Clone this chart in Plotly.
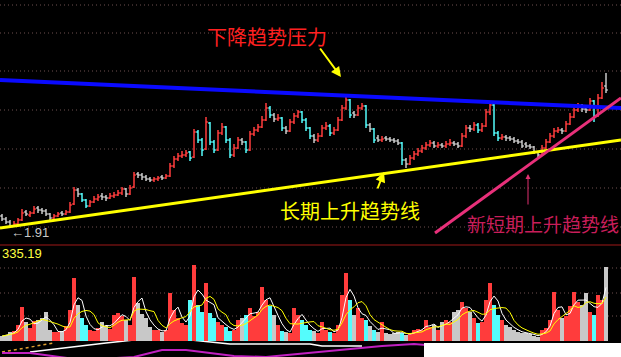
import plotly.graph_objects as go
import pandas as pd

# ---------------- data ----------------
closes = [
    1.99, 1.96, 1.92, 1.94, 1.98, 2.05, 2.04, 2.05, 2.09, 2.08,
    2.07, 2.04, 2.00, 2.02, 2.04, 2.04, 2.06, 2.13, 2.28, 2.24,
    2.18, 2.12, 2.16, 2.19, 2.21, 2.21, 2.20, 2.22, 2.23, 2.25,
    2.29, 2.24, 2.30, 2.43, 2.43, 2.41, 2.39, 2.38, 2.39, 2.40,
    2.40, 2.42, 2.52, 2.59, 2.62, 2.63, 2.65, 2.60, 2.86, 2.78,
    2.68, 2.96, 2.76, 2.68, 2.85, 2.91, 2.78, 2.63, 2.70, 2.78,
    2.76, 2.68, 2.84, 2.88, 2.91, 2.98, 3.10, 3.03, 2.99, 3.00,
    2.90, 2.87, 2.96, 3.02, 3.06, 2.98, 2.90, 2.82, 2.78, 2.82,
    2.90, 2.92, 2.85, 2.88, 2.98, 3.10, 3.18, 3.03, 3.03, 3.10,
    3.12, 2.93, 2.89, 2.78, 2.78, 2.79, 2.79, 2.78, 2.77, 2.75,
    2.58, 2.54, 2.60, 2.64, 2.67, 2.70, 2.73, 2.75, 2.72, 2.73,
    2.72, 2.74, 2.75, 2.74, 2.72, 2.82, 2.90, 2.89, 2.93, 2.88,
    2.92, 3.06, 3.13, 2.85, 2.80, 2.81, 2.80, 2.79, 2.77, 2.76,
    2.72, 2.72, 2.71, 2.66, 2.63, 2.70, 2.76, 2.82, 2.87, 2.88,
    2.87, 2.94, 3.01, 3.08, 3.12, 3.09, 3.08, 3.17, 3.02, 3.20,
    3.30, 3.28,
]
opens = [
    2.02, 1.99, 1.96, 1.92, 1.94, 1.98, 2.06, 2.03, 2.05, 2.10,
    2.08, 2.07, 2.04, 2.00, 2.02, 2.05, 2.04, 2.06, 2.14, 2.28,
    2.24, 2.18, 2.12, 2.16, 2.19, 2.22, 2.21, 2.20, 2.22, 2.23,
    2.25, 2.29, 2.24, 2.31, 2.44, 2.43, 2.41, 2.39, 2.38, 2.39,
    2.41, 2.40, 2.42, 2.52, 2.59, 2.62, 2.63, 2.66, 2.61, 2.86,
    2.78, 2.69, 2.95, 2.76, 2.68, 2.85, 2.91, 2.78, 2.63, 2.70,
    2.78, 2.76, 2.68, 2.84, 2.88, 2.91, 2.98, 3.10, 3.03, 2.99,
    3.00, 2.90, 2.87, 2.96, 3.02, 3.06, 2.98, 2.90, 2.82, 2.78,
    2.82, 2.90, 2.92, 2.85, 2.88, 2.98, 3.10, 3.18, 3.05, 3.03,
    3.10, 3.12, 2.93, 2.89, 2.80, 2.78, 2.80, 2.79, 2.78, 2.77,
    2.75, 2.58, 2.54, 2.60, 2.64, 2.67, 2.70, 2.73, 2.75, 2.72,
    2.73, 2.72, 2.74, 2.75, 2.74, 2.72, 2.82, 2.90, 2.89, 2.93,
    2.88, 2.92, 3.06, 3.13, 2.85, 2.80, 2.81, 2.80, 2.79, 2.77,
    2.76, 2.74, 2.72, 2.71, 2.66, 2.63, 2.70, 2.76, 2.82, 2.87,
    2.88, 2.87, 2.94, 3.01, 3.08, 3.12, 3.09, 3.08, 3.17, 3.02,
    3.20, 3.32,
]
highs = [
    2.04, 2.01, 1.98, 1.97, 2.00, 2.09, 2.08, 2.07, 2.12, 2.12,
    2.10, 2.09, 2.05, 2.04, 2.06, 2.07, 2.08, 2.16, 2.31, 2.30,
    2.25, 2.19, 2.18, 2.22, 2.24, 2.25, 2.23, 2.25, 2.26, 2.28,
    2.31, 2.30, 2.33, 2.46, 2.46, 2.45, 2.43, 2.41, 2.41, 2.42,
    2.43, 2.44, 2.55, 2.62, 2.65, 2.67, 2.68, 2.67, 2.89, 2.88,
    2.80, 3.01, 2.96, 2.78, 2.88, 2.95, 2.92, 2.80, 2.74, 2.81,
    2.80, 2.77, 2.87, 2.91, 2.94, 3.02, 3.15, 3.12, 3.05, 3.04,
    3.01, 2.92, 2.99, 3.05, 3.08, 3.07, 3.00, 2.91, 2.84, 2.85,
    2.93, 2.96, 2.94, 2.91, 3.01, 3.13, 3.21, 3.19, 3.07, 3.13,
    3.15, 3.13, 2.95, 2.90, 2.83, 2.82, 2.82, 2.81, 2.80, 2.79,
    2.76, 2.60, 2.63, 2.67, 2.70, 2.73, 2.76, 2.78, 2.77, 2.76,
    2.75, 2.77, 2.79, 2.77, 2.76, 2.85, 2.93, 2.93, 2.96, 2.95,
    2.95, 3.09, 3.15, 3.14, 2.87, 2.84, 2.83, 2.82, 2.81, 2.79,
    2.78, 2.76, 2.74, 2.72, 2.67, 2.73, 2.79, 2.85, 2.90, 2.91,
    2.90, 2.97, 3.05, 3.12, 3.15, 3.14, 3.11, 3.20, 3.18, 3.24,
    3.36, 3.45,
]
lows = [
    1.97, 1.94, 1.91, 1.92, 1.93, 1.97, 2.02, 2.01, 2.04, 2.05,
    2.04, 2.02, 1.98, 1.99, 2.01, 2.02, 2.03, 2.05, 2.13, 2.21,
    2.16, 2.10, 2.11, 2.15, 2.17, 2.18, 2.17, 2.19, 2.20, 2.22,
    2.23, 2.21, 2.23, 2.30, 2.40, 2.38, 2.37, 2.36, 2.36, 2.37,
    2.38, 2.39, 2.41, 2.50, 2.57, 2.60, 2.61, 2.57, 2.60, 2.75,
    2.62, 2.68, 2.73, 2.65, 2.67, 2.83, 2.75, 2.60, 2.61, 2.69,
    2.73, 2.65, 2.67, 2.82, 2.86, 2.90, 2.97, 3.00, 2.96, 2.97,
    2.87, 2.84, 2.86, 2.94, 3.00, 2.95, 2.87, 2.79, 2.75, 2.76,
    2.81, 2.88, 2.82, 2.83, 2.87, 2.97, 3.08, 3.00, 3.00, 3.02,
    3.08, 2.90, 2.86, 2.75, 2.76, 2.76, 2.77, 2.76, 2.75, 2.73,
    2.53, 2.50, 2.53, 2.58, 2.62, 2.65, 2.68, 2.71, 2.70, 2.70,
    2.70, 2.70, 2.72, 2.72, 2.70, 2.71, 2.80, 2.86, 2.87, 2.85,
    2.86, 2.91, 3.03, 2.82, 2.77, 2.78, 2.77, 2.77, 2.75, 2.74,
    2.70, 2.70, 2.69, 2.64, 2.61, 2.62, 2.69, 2.75, 2.80, 2.85,
    2.84, 2.86, 2.93, 3.00, 3.06, 3.06, 3.05, 3.07, 2.96, 3.01,
    3.19, 3.25,
]
volumes = [
    17, 21, 31, 35, 56, 119, 66, 45, 70, 73,
    80, 101, 38, 31, 31, 35, 52, 108, 220, 126,
    80, 56, 38, 35, 45, 66, 52, 42, 91, 98,
    87, 73, 56, 224, 133, 94, 80, 49, 38, 38,
    31, 38, 168, 108, 80, 63, 56, 143, 266, 126,
    101, 203, 98, 80, 66, 56, 49, 35, 38, 73,
    80, 91, 115, 87, 101, 189, 143, 122, 91, 56,
    35, 31, 28, 115, 91, 73, 56, 38, 35, 28,
    66, 38, 31, 28, 56, 161, 238, 143, 91, 115,
    80, 73, 52, 38, 31, 66, 28, 24, 28, 31,
    28, 21, 24, 38, 42, 38, 73, 49, 56, 38,
    66, 73, 66, 101, 108, 136, 115, 101, 80, 63,
    66, 143, 203, 126, 91, 73, 56, 49, 38, 31,
    28, 28, 24, 17, 14, 38, 45, 73, 171, 108,
    80, 87, 122, 171, 136, 126, 168, 101, 91, 161,
    143, 259,
]

# hand-drawn trend lines (bar index, price)
down_trend_x = [-0.5, 154.75]
down_trend_y = [3.38, 3.10]
long_up_x = [-0.5, 154.75]
long_up_y = [1.90, 2.78]
short_up_x = [108.25, 154.75]
short_up_y = [1.85, 3.20]

# bottom indicator strip (partly visible)
strip_white_x = [7, 15, 26, 40, 57, 77, 80, 90]
strip_white_y = [5, 9, 14, 20, 13, 13, 11, 11]
strip_purple_x = [0, 7, 20, 33, 40, 46, 52, 58, 66, 80, 95, 103, 106]
strip_purple_y = [4, 4, -3, 0, 7, 7, 4, 1, 0, 5, 11, 13, 12]
strip_orange_x = [0, 13]
strip_orange_y = [5, 14]

low_label = "←1.91"
vol_label = "335.19"

# ---------------- figure ----------------
n = min(len(closes), len(opens), len(highs), len(lows), len(volumes))
bars = list(range(n))

kinds = []
for i in bars:
    o, c = opens[i], closes[i]
    if c > o:
        kinds.append('up')
    elif o - c >= 0.05:
        kinds.append('dn')
    else:
        kinds.append('flat')
palette = {'up': '#ff3c3c', 'dn': '#54fcfc', 'flat': '#c8c8c8'}

fig = go.Figure()

for k in ['flat', 'dn', 'up']:
    idx = [i for i in bars if kinds[i] == k]
    fig.add_trace(go.Ohlc(
        x=idx,
        open=[opens[i] for i in idx], high=[highs[i] for i in idx],
        low=[lows[i] for i in idx], close=[closes[i] for i in idx],
        increasing=dict(line=dict(color=palette[k], width=1.5)),
        decreasing=dict(line=dict(color=palette[k], width=1.5)),
        tickwidth=0.45, xaxis='x', yaxis='y', hoverinfo='skip'))

# trend lines
fig.add_trace(go.Scatter(x=down_trend_x, y=down_trend_y, mode='lines',
                         line=dict(color='#0a0aff', width=4), yaxis='y'))
fig.add_trace(go.Scatter(x=long_up_x, y=long_up_y, mode='lines',
                         line=dict(color='#ffff00', width=3), yaxis='y'))
fig.add_trace(go.Scatter(x=short_up_x, y=short_up_y, mode='lines',
                         line=dict(color='#e8307a', width=3), yaxis='y'))

# volume
fig.add_trace(go.Bar(x=bars, y=volumes[:n],
                     marker=dict(color=[palette[k] for k in kinds], line=dict(width=0)),
                     width=0.85, yaxis='y2', hoverinfo='skip'))
vs = pd.Series(volumes[:n])
fig.add_trace(go.Scatter(x=bars, y=vs.rolling(3, min_periods=1).mean(), mode='lines',
                         line=dict(color='#ffffff', width=1), yaxis='y2'))
fig.add_trace(go.Scatter(x=bars, y=vs.rolling(6, min_periods=1).mean(), mode='lines',
                         line=dict(color='#ffff00', width=1), yaxis='y2'))

# strip
fig.add_trace(go.Scatter(x=strip_orange_x, y=strip_orange_y, mode='lines',
                         line=dict(color='#e0a030', width=1.5, dash='dot'), yaxis='y3'))
fig.add_trace(go.Scatter(x=strip_white_x, y=strip_white_y, mode='lines',
                         line=dict(color='#ffffff', width=1.5), yaxis='y3'))
fig.add_trace(go.Scatter(x=strip_purple_x, y=strip_purple_y, mode='lines',
                         line=dict(color='#c020c0', width=2), yaxis='y3'))

H = 357.0
W = 621.0
def py(p):
    return 1 - p / H

shapes = []
for gy in [5, 33, 71, 110, 149, 188, 227, 268, 293, 316]:
    shapes.append(dict(type='line', xref='paper', yref='paper', x0=0, x1=1,
                       y0=py(gy), y1=py(gy), layer='below',
                       line=dict(color='#6e5050', width=1, dash='1px,3px')))
shapes.append(dict(type='line', xref='paper', yref='paper', x0=0, x1=1,
                   y0=py(245), y1=py(245), line=dict(color='#a01818', width=1)))
shapes.append(dict(type='rect', xref='paper', yref='paper', x0=424 / W, x1=1,
                   y0=0, y1=py(343), fillcolor='#ffffff', line=dict(width=0)))

cjk = "Noto Sans CJK SC"
annotations = [
    dict(text="下降趋势压力", xref='paper', yref='paper', x=205 / W, y=py(37),
         xanchor='left', yanchor='middle', showarrow=False,
         font=dict(family=cjk, size=20, color='#ff2020')),
    dict(text="长期上升趋势线", xref='paper', yref='paper', x=278 / W, y=py(210),
         xanchor='left', yanchor='middle', showarrow=False,
         font=dict(family=cjk, size=20, color='#ffff00')),
    dict(text="新短期上升趋势线", xref='paper', yref='paper', x=1, y=py(223),
         xanchor='right', yanchor='middle', showarrow=False,
         font=dict(family=cjk, size=19, color='#c81e5a')),
    dict(text=low_label, xref='paper', yref='paper', x=9 / W, y=py(232),
         xanchor='left', yanchor='middle', showarrow=False,
         font=dict(family='Liberation Sans', size=13, color='#c8c8c8')),
    dict(text=vol_label, xref='paper', yref='paper', x=0, y=py(253),
         xanchor='left', yanchor='middle', showarrow=False,
         font=dict(family='Liberation Sans', size=13, color='#ffff40')),
    dict(text='', xref='paper', yref='paper', x=341 / W, y=py(77),
         ax=-22, ay=-30, showarrow=True, arrowhead=2, arrowsize=1,
         arrowwidth=2, arrowcolor='#ffff00'),
    dict(text='', xref='paper', yref='paper', x=384 / W, y=py(172),
         ax=-7, ay=18, showarrow=True, arrowhead=2, arrowsize=1,
         arrowwidth=2, arrowcolor='#ffff00'),
    dict(text='', xref='paper', yref='paper', x=528 / W, y=py(174),
         ax=0, ay=32, showarrow=True, arrowhead=2, arrowsize=1,
         arrowwidth=1, arrowcolor='#e03070'),
]

fig.update_layout(
    width=621, height=357, autosize=False,
    margin=dict(l=0, r=0, t=0, b=0, pad=0),
    paper_bgcolor='#000000', plot_bgcolor='#000000',
    showlegend=False, bargap=0,
    xaxis=dict(range=[-0.5, 154.75], visible=False, rangeslider=dict(visible=False),
               fixedrange=True),
    yaxis=dict(domain=[py(245), 1], range=[1.73, 4.18], visible=False),
    yaxis2=dict(domain=[py(341), py(245)], range=[0, 336], visible=False),
    yaxis3=dict(domain=[0, py(341)], range=[0, 16], visible=False),
    shapes=shapes, annotations=annotations,
)

fig.write_html("out.html", config={'displayModeBar': False},
               post_script="document.body.style.margin='0';document.body.style.background='#000';")
